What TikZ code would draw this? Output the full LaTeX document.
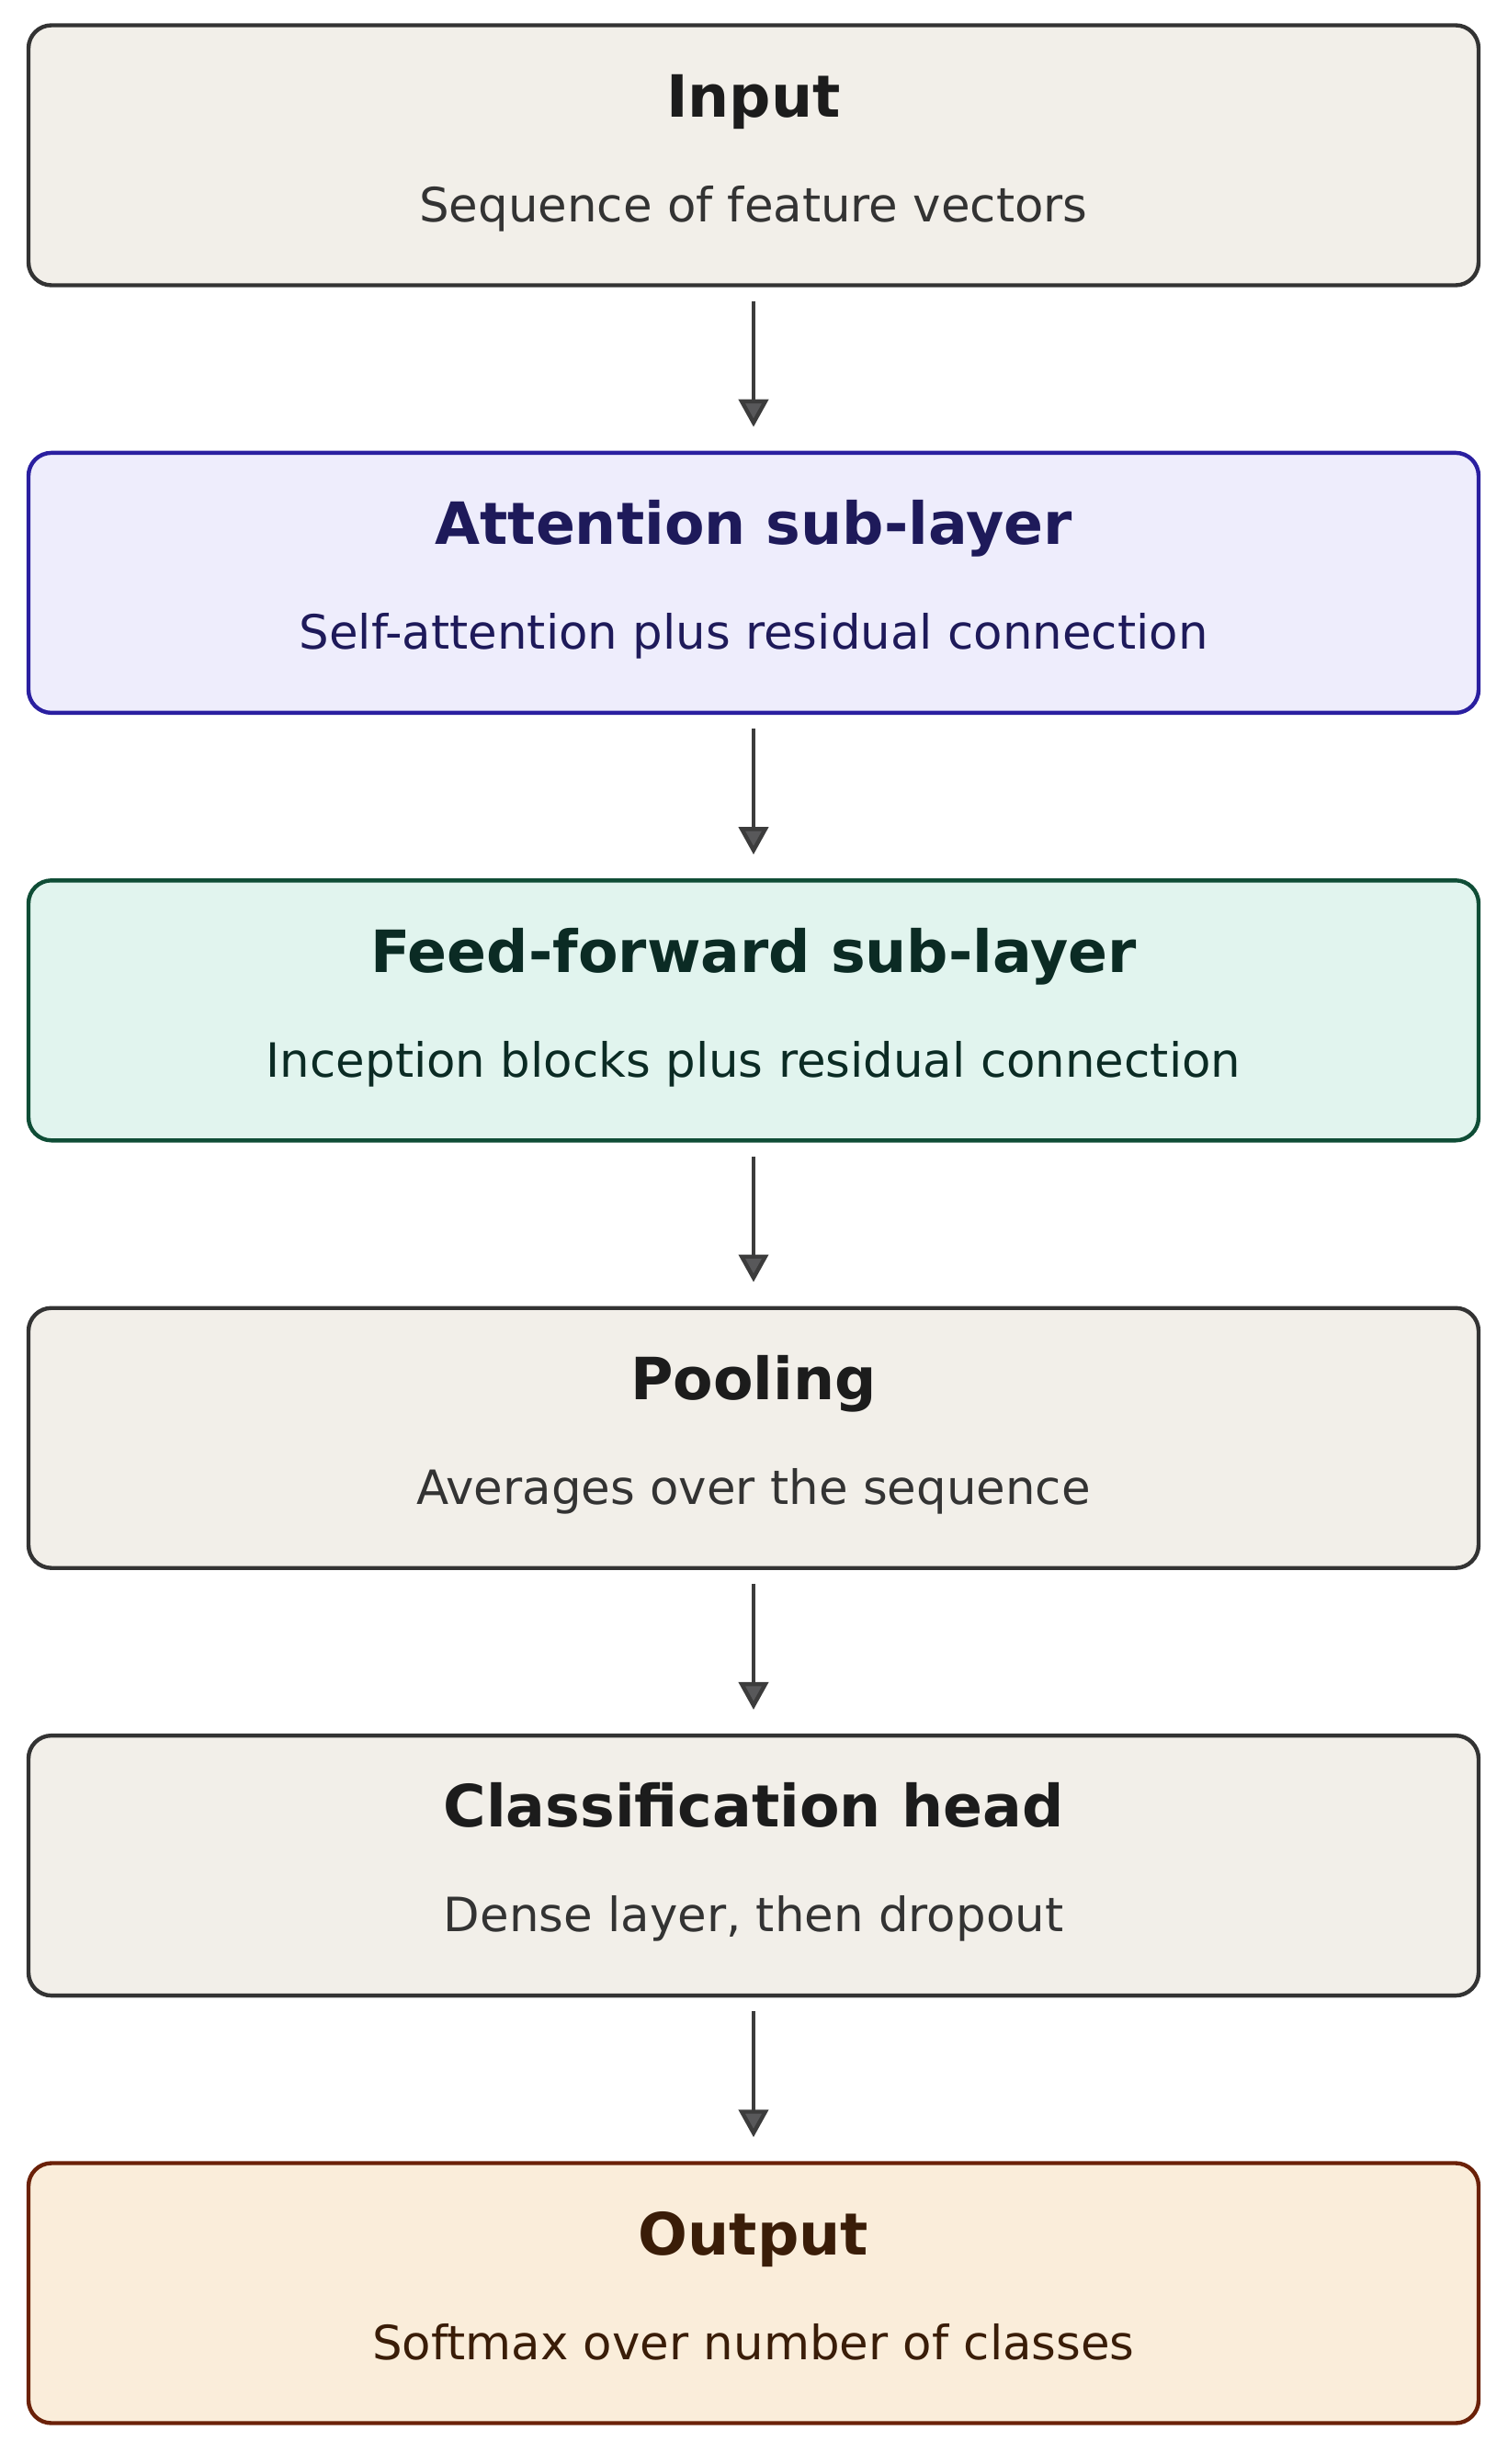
\documentclass[tikz,border=0pt]{standalone}
\usepackage{fontspec}
\setmainfont{DejaVu Sans}
\usepackage{xcolor}
\usetikzlibrary{arrows.meta,positioning}

\definecolor{plainfill}{HTML}{F2EFE9}
\definecolor{plainline}{HTML}{333333}
\definecolor{plaintitle}{HTML}{1C1C1C}
\definecolor{attfill}{HTML}{EEEDFC}
\definecolor{attline}{HTML}{2A1FA0}
\definecolor{atttext}{HTML}{1E1A5A}
\definecolor{fffill}{HTML}{E1F4EE}
\definecolor{ffline}{HTML}{0F4D36}
\definecolor{fftext}{HTML}{0B2B24}
\definecolor{outfill}{HTML}{FAEDDA}
\definecolor{outline}{HTML}{6B2108}
\definecolor{outtext}{HTML}{3A1D08}
\definecolor{arrowline}{HTML}{3C3C3C}
\definecolor{arrowhead}{HTML}{58585A}

\begin{document}
\begin{tikzpicture}[node distance=89pt,
    block/.style={draw=plainline, fill=plainfill, rectangle, rounded corners=12.5pt, line width=2.2pt, minimum width=789pt, minimum height=141.5pt},
    ttl/.style={anchor=base, text=plaintitle, font=\fontsize{31.7}{36}\selectfont\bfseries},
    sub/.style={anchor=base, text=plainline, font=\fontsize{25.7}{30}\selectfont},
    flow/.style={draw=arrowline, line width=2.2pt, -{Triangle[width=16pt, length=15pt, fill=arrowhead]}, shorten <=7.5pt, shorten >=13pt}]
    % the six stages
    \node [block] (inp) {};
    \node [block, below=of inp, draw=attline, fill=attfill] (att) {};
    \node [block, below=of att, draw=ffline, fill=fffill] (ff) {};
    \node [block, below=of ff] (pool) {};
    \node [block, below=of pool] (cls) {};
    \node [block, below=of cls, draw=outline, fill=outfill] (out) {};
    \useasboundingbox (inp.center) ++(-410pt,84.5pt) rectangle ++(820pt,-1341pt);
    % titles and captions
    \node [ttl] (inp-t) at ([yshift=-51pt]inp.north) {Input};
    \node [sub] (inp-s) at ([yshift=-108pt]inp.north) {Sequence of feature vectors};
    \node [ttl, text=atttext] (att-t) at ([yshift=-51pt]att.north) {Attention sub-layer};
    \node [sub, text=atttext] (att-s) at ([yshift=-108pt]att.north) {Self-attention plus residual connection};
    \node [ttl, text=fftext] (ff-t) at ([yshift=-51pt]ff.north) {Feed-forward sub-layer};
    \node [sub, text=fftext] (ff-s) at ([yshift=-108pt]ff.north) {Inception blocks plus residual connection};
    \node [ttl] (pool-t) at ([yshift=-51pt]pool.north) {Pooling};
    \node [sub] (pool-s) at ([yshift=-108pt]pool.north) {Averages over the sequence};
    \node [ttl] (cls-t) at ([yshift=-51pt]cls.north) {Classification head};
    \node [sub] (cls-s) at ([yshift=-108pt]cls.north) {Dense layer, then dropout};
    \node [ttl, text=outtext] (out-t) at ([yshift=-51pt]out.north) {Output};
    \node [sub, text=outtext] (out-s) at ([yshift=-108pt]out.north) {Softmax over number of classes};
    % arrows
    \path [flow] (inp) -- (att);
    \path [flow] (att) -- (ff);
    \path [flow] (ff) -- (pool);
    \path [flow] (pool) -- (cls);
    \path [flow] (cls) -- (out);
\end{tikzpicture}
\end{document}
